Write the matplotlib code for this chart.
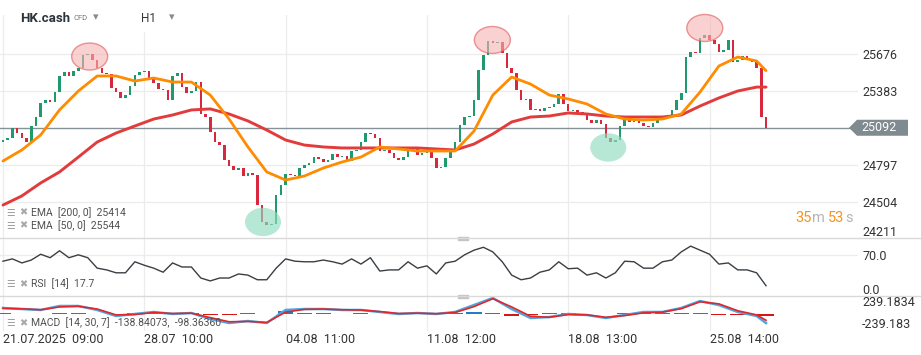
import matplotlib
matplotlib.use('Agg')
import matplotlib.pyplot as plt
from matplotlib.patches import Ellipse, Polygon, Rectangle
from matplotlib.lines import Line2D
from matplotlib.transforms import blended_transform_factory
import numpy as np

plt.rcParams['font.family'] = ['Roboto', 'DejaVu Sans']

# ---------------- data ----------------
first_open = 24980
closes = [
    24995, 25011, 25090, 25050, 25011, 24979, 25106, 25177, 25288, 25312,
    25296, 25375, 25502, 25533, 25502, 25541, 25565, 25668, 25676, 25628,
    25565, 25526, 25518, 25407, 25375, 25328, 25351, 25423, 25510, 25533,
    25541, 25486, 25446, 25399, 25391, 25312, 25502, 25526, 25415, 25367,
    25383, 25454, 25201, 25177, 25058, 24979, 24955, 24837, 24789, 24758,
    24773, 24710, 24734, 24718, 24480, 24346, 24322, 24330, 24560, 24639,
    24726, 24718, 24710, 24773, 24797, 24813, 24860, 24845, 24821, 24837,
    24884, 24860, 24868, 24829, 24908, 24916, 24979, 25050, 25043, 25011,
    24908, 24916, 24892, 24853, 24837, 24860, 24916, 24932, 24876, 24892,
    24908, 24853, 24773, 24781, 24853, 24908, 24979, 25114, 25177, 25185,
    25312, 25549, 25668, 25779, 25763, 25771, 25684, 25565, 25526, 25391,
    25312, 25320, 25233, 25241, 25225, 25248, 25256, 25280, 25359, 25280,
    25225, 25233, 25217, 25193, 25153, 25130, 25153, 25122, 25011, 24979,
    24995, 25106, 25153, 25138, 25146, 25130, 25106, 25098, 25130, 25153,
    25169, 25185, 25233, 25312, 25367, 25652, 25692, 25684, 25803, 25826,
    25787, 25755, 25692, 25708, 25787, 25613, 25628, 25660, 25628, 25613,
    25565, 25177, 25092,
]
last_price = 25092

ema_idx = list(range(0, 161, 4)) + [162]
ema50 = [
    24829, 24916, 25035, 25233, 25383, 25502, 25502, 25462, 25486, 25454,
    25454, 25351, 25161, 24940, 24742, 24678, 24710, 24773, 24821, 24860,
    24940, 24924, 24908, 24908, 24908, 25066, 25351, 25494, 25438, 25351,
    25320, 25280, 25201, 25161, 25153, 25161, 25201, 25375, 25581, 25652,
    25621, 25544,
]
ema200 = [
    24480, 24552, 24655, 24742, 24860, 24979, 25050, 25106, 25161, 25193,
    25233, 25241, 25201, 25146, 25074, 24995, 24955, 24940, 24932, 24932,
    24932, 24932, 24932, 24924, 24916, 24963, 25043, 25138, 25177, 25185,
    25209, 25201, 25185, 25177, 25177, 25177, 25193, 25264, 25328, 25383,
    25414, 25414,
]

rsi_idx = list(range(0, 163, 2))
rsi = [
    60, 64, 57, 62, 72, 66, 78, 66, 71, 66,
    48, 45, 40, 40, 59, 53, 48, 41, 57, 50,
    50, 31, 26, 31, 31, 38, 36, 28, 28, 48,
    64, 60, 59, 59, 62, 59, 55, 64, 55, 66,
    43, 45, 45, 59, 48, 52, 38, 57, 60, 71,
    79, 84, 76, 59, 36, 28, 31, 41, 45, 59,
    47, 48, 36, 40, 31, 40, 60, 59, 48, 48,
    59, 62, 76, 86, 79, 72, 55, 57, 45, 45,
    40, 17.7,
]

macd = [
    80, 65, 51, 109, 109, 51, -36, -7, 22, -7,
    7, -80, -138, -109, -138, 51, 65, 65, 51, 51,
    22, -7, 7, -7, 22, 123, 225, 65, -65, -51,
    -7, -22, -65, -22, 22, 22, 80, 181, 123, 22,
    -36, -138.84,
]
signal = [
    75, 68, 55, 95, 105, 65, -20, -15, 15, 0,
    5, -60, -120, -115, -130, 20, 60, 65, 55, 50,
    28, 0, 5, -3, 15, 100, 215, 95, -40, -55,
    -15, -20, -55, -30, 10, 20, 70, 170, 140, 40,
    -20, -98.36,
]

week_ticks = [0, 30, 60, 90, 120, 150]
week_labels = ['21.07.2025  09:00', '28.07  10:00', '04.08  11:00',
               '11.08  12:00', '18.08  13:00', '25.08  14:00']
price_ticks = [25676, 25383, 24797, 24504]

# highlighted extremes: (bar, price, kind)
marks_x = [18.4, 103.9, 149.0, 55.2, 128.5]
marks_y = [25656, 25787, 25882, 24346, 24936]
marks_kind = ['top', 'top', 'top', 'bottom', 'bottom']

# ---------------- layout ----------------
W, H = 921, 355
fig = plt.figure(figsize=(W / 100, H / 100), dpi=100)
fig.patch.set_facecolor('white')

PX_STEP = 4.71
X0 = 3.0
def px2bar(px):
    return (px - X0) / PX_STEP

def ax_at(x0, y0, x1, y1):
    return fig.add_axes([x0 / W, 1 - y1 / H, (x1 - x0) / W, (y1 - y0) / H])

def fx(px):
    return px / W

def fy(py):
    return 1 - py / H

GRID = '#ececec'
TXT = '#333333'
UP = '#1f9a6c'
DN = '#d8283d'

ax = ax_at(0, 15, 858, 238)
ax_r = ax_at(0, 238, 858, 296)
ax_m = ax_at(0, 296, 858, 331)

PPX = 7.918  # price per pixel
ytop = 25676 + (54 - 15) * PPX
ybot = 25676 - (238 - 54) * PPX
for a in (ax, ax_r, ax_m):
    a.set_xlim(px2bar(0), px2bar(858))
    for s in a.spines.values():
        s.set_visible(False)
    a.set_xticks(week_ticks)
    a.tick_params(axis='x', length=0, labelbottom=False)
    a.grid(True, axis='x', color=GRID, lw=0.9, zorder=0)
    a.set_axisbelow(True)
    a.patch.set_alpha(0)

ax.set_ylim(ybot, ytop)
ax.yaxis.tick_right()
ax.set_yticks(price_ticks)
ax.tick_params(axis='y', length=0, pad=3, labelsize=9, labelcolor=TXT)
ax.grid(True, axis='y', color=GRID, lw=0.9)

# candles
closes_a = np.array(closes, dtype=float)
opens_a = np.concatenate([[first_open], closes_a[:-1]])
idx = np.arange(len(closes_a))
h = closes_a - opens_a
h = np.where(np.abs(h) < 8, np.where(h >= 0, 8, -8), h)
cols = [UP if c >= o else DN for o, c in zip(opens_a, closes_a)]
ax.bar(idx, h, bottom=opens_a, width=0.55, color=cols, zorder=3, linewidth=0)

# EMA lines
ax.plot(ema_idx, ema200, color='#e23b3b', lw=2.1, zorder=4, solid_capstyle='round')
ax.plot(ema_idx, ema50, color='#ff8c00', lw=2.0, zorder=5, solid_capstyle='round')

# current price line
ax.axhline(last_price, color='#85929a', lw=1.0, zorder=2)

# highlight ellipses
ew, eh = 36 / PX_STEP, 27 * PPX
for mx, my, kind in zip(marks_x, marks_y, marks_kind):
    if kind == 'top':
        e = Ellipse((mx, my), ew, eh, facecolor='#f6b3b3', edgecolor='#e05555',
                    lw=1.0, alpha=0.6, zorder=6, clip_on=False)
    else:
        e = Ellipse((mx, my), ew, eh * 1.05, facecolor='#8fdcbf', edgecolor='none',
                    alpha=0.65, zorder=6, clip_on=False)
    ax.add_patch(e)

# RSI panel
ax_r.set_ylim(0, 100)
ax_r.plot(rsi_idx, rsi, color='#3a3f44', lw=1.0, zorder=3)
ax_r.yaxis.tick_right()
ax_r.set_yticks([70])
ax_r.set_yticklabels(['70.0'])
ax_r.tick_params(axis='y', length=0, pad=3, labelsize=9, labelcolor=TXT)
ax_r.grid(True, axis='y', color=GRID, lw=0.9)

# MACD panel
ax_m.set_ylim(-254, 254)
ax_m.set_yticks([])
macd_a = np.array(macd)
sig_a = np.array(signal)
hist = macd_a - sig_a
hcols = ['#1e7fc4' if v >= 0 else '#d71515' for v in hist]
hist_draw = np.where(np.abs(hist) < 8, np.where(hist >= 0, 8, -8), hist)
ax_m.bar(ema_idx, hist_draw, width=3.2, color=hcols, zorder=2, linewidth=0)
ax_m.plot(ema_idx, macd, color='#4da6e0', lw=1.8, zorder=3)
ax_m.plot(ema_idx, signal, color='#e0262b', lw=1.2, zorder=4)

# x labels
tr = blended_transform_factory(ax_m.transData, ax_m.transAxes)
for t, lab in zip(week_ticks, week_labels):
    ax_m.text(t, -0.23, lab, transform=tr, ha='left', va='center',
              fontsize=9, color=TXT, clip_on=False)

# separators
for yy in (238, 296):
    fig.add_artist(Line2D([0, 1], [fy(yy), fy(yy)], color='#d9d9d9', lw=1.0,
                          transform=fig.transFigure))
    fig.add_artist(Rectangle((fx(458), fy(yy + 1.5)), 10 / W, 3 / H,
                             transform=fig.transFigure, color='#c4c4c4'))

# right labels not on ticks
fig.text(fx(862), fy(232), '24211', fontsize=9, color=TXT, va='center', ha='left')
fig.text(fx(862), fy(290), '0.0', fontsize=9, color=TXT, va='center', ha='left')
fig.text(fx(862), fy(303), '239.1834', fontsize=9, color=TXT, va='center', ha='left')
fig.text(fx(862), fy(325), '-239.183', fontsize=9, color=TXT, va='center', ha='left')

# price tag
fig.canvas.draw()
yc_disp = ax.transData.transform((0, last_price))[1]
yc = H - yc_disp
pts = [(849, yc), (857, yc - 8), (908, yc - 8), (908, yc + 8), (857, yc + 8)]
fig.add_artist(Polygon([(fx(a), fy(b)) for a, b in pts], closed=True,
                       transform=fig.transFigure, facecolor='#7f8b90', edgecolor='none'))
fig.text(fx(861), fy(yc), str(last_price), fontsize=9, color='white',
         va='center', ha='left')

# title area
fig.add_artist(Rectangle((fx(125), fy(31)), 65 / W, 31 / H,
                         transform=fig.transFigure, color='white'))
fig.text(fx(20), fy(18), 'HK.cash', fontsize=9.5, fontweight='bold', color='#2b333b',
         va='center', ha='left')
fig.text(fx(74), fy(18.5), 'CFD', fontsize=5.5, color='#777777', va='center', ha='left')
fig.text(fx(93), fy(17), '▾', fontsize=8, color='#8a8a8a', va='center', ha='left',
         family=['DejaVu Sans'])
fig.text(fx(141), fy(19), 'H1', fontsize=8.5, color=TXT, va='center', ha='left')
fig.text(fx(169), fy(17), '▾', fontsize=8, color='#8a8a8a', va='center', ha='left',
         family=['DejaVu Sans'])

# legends
def legend(y, label):
    fig.text(fx(6), fy(y), '☰', fontsize=7, color='#a0a0a0', va='center', ha='left',
             family=['DejaVu Sans'])
    fig.text(fx(19), fy(y), '✖', fontsize=7, color='#a8a8a8', va='center', ha='left',
             family=['DejaVu Sans'])
    fig.text(fx(31), fy(y), label, fontsize=7.5, color='#505050', va='center', ha='left')

legend(212.5, 'EMA  [200, 0]  25414')
legend(225.5, 'EMA  [50, 0]  25544')
legend(284, 'RSI  [14]  17.7')
legend(323, 'MACD  [14, 30, 7]  -138.84073,  -98.36360')

# countdown
OR = '#f7931e'
fig.text(fx(795), fy(218), '35', fontsize=10.5, color=OR, va='center', ha='left')
fig.text(fx(812), fy(218), 'm', fontsize=10.5, color='#b5b5b5', va='center', ha='left')
fig.text(fx(828), fy(218), '53', fontsize=10.5, color=OR, va='center', ha='left')
fig.text(fx(845), fy(218), 's', fontsize=10.5, color='#b5b5b5', va='center', ha='left')

fig.savefig('out.png', dpi=100)
